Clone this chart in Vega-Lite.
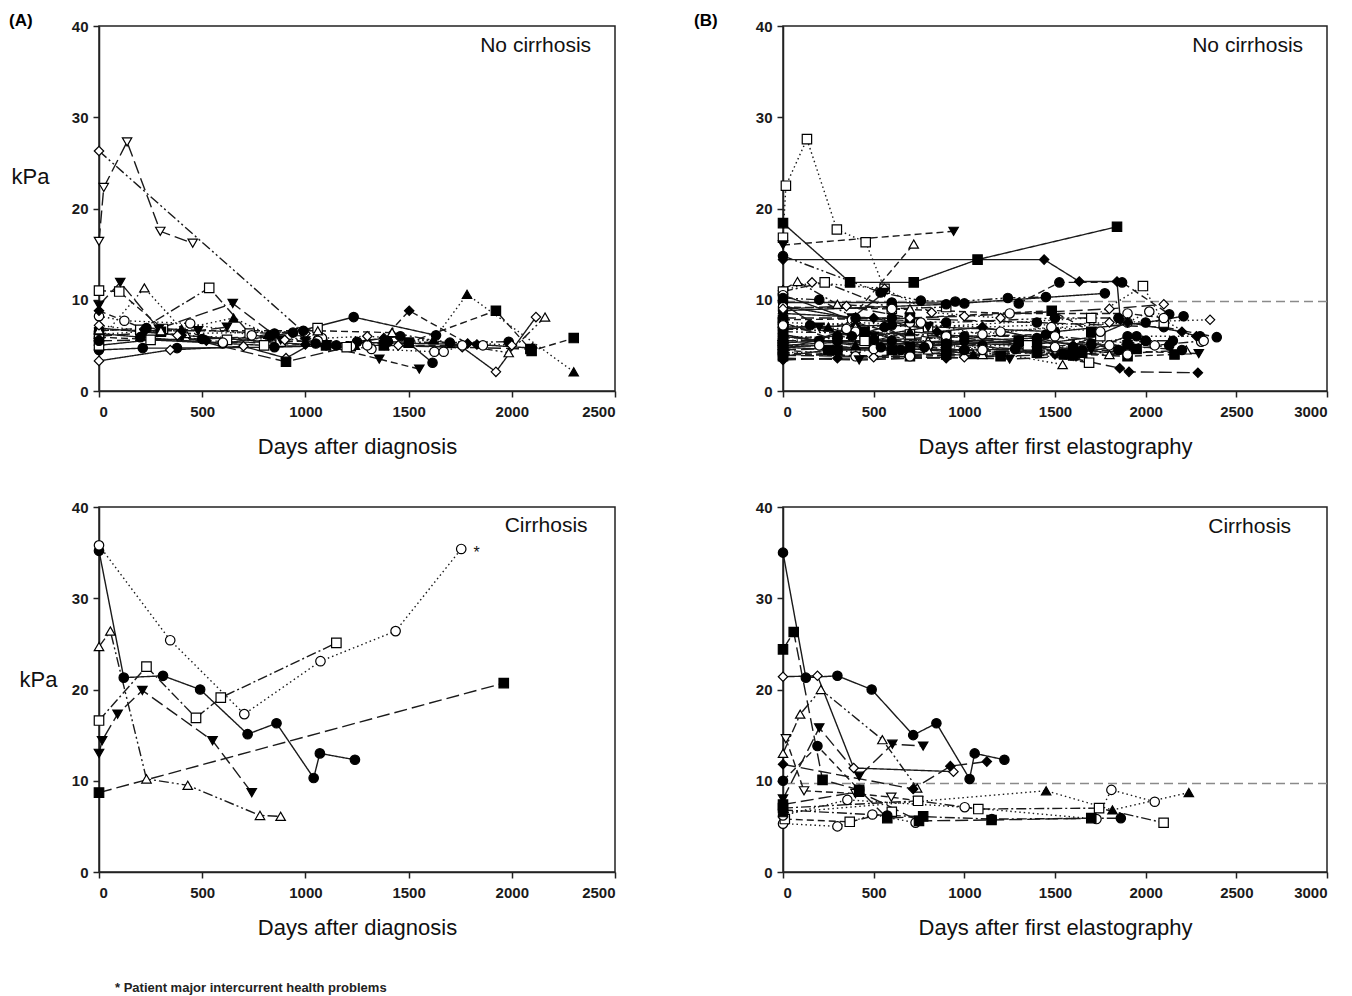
{
"$schema": "https://vega.github.io/schema/vega-lite/v6.json",
"background": "white",
"autosize": {"type": "pad"},
"padding": {"left": 8, "top": 11, "right": 5, "bottom": 5},
"config": {
  "font": "Liberation Sans",
  "view": {"stroke": "#222", "strokeWidth": 1.5},
  "axis": {"labelFont": "Liberation Sans", "labelFontSize": 15, "labelFontWeight": "bold", "labelColor": "#1a1a1a", "titleFont": "Liberation Sans", "titleFontSize": 22, "titleFontWeight": "normal", "titleColor": "#111", "domainColor": "#222", "domainWidth": 1.5, "tickColor": "#222", "tickWidth": 1.5, "tickSize": 6, "grid": false, "labelPadding": 5, "format": "d"},
  "axisX": {"labelPadding": 7, "titlePadding": 17},
  "title": {"font": "Liberation Sans", "fontSize": 17, "fontWeight": "bold", "anchor": "start", "frame": "group", "color": "#000"}
},
"datasets": {
"A1": [
{"s":"a01","d":0,"k":26.3},{"s":"a01","d":1000,"k":6.3},
{"s":"a02","d":0,"k":16.4},{"s":"a02","d":23,"k":22.3},{"s":"a02","d":136,"k":27.3},{"s":"a02","d":297,"k":17.5},{"s":"a02","d":454,"k":16.2},
{"s":"a03","d":0,"k":11.0},{"s":"a03","d":98,"k":10.9},{"s":"a03","d":310,"k":6.8},{"s":"a03","d":620,"k":5.6},{"s":"a03","d":1059,"k":6.9},
{"s":"a04","d":0,"k":9.4},{"s":"a04","d":103,"k":11.9},{"s":"a04","d":290,"k":6.8},{"s":"a04","d":480,"k":6.6},{"s":"a04","d":620,"k":7.0},
{"s":"a05","d":0,"k":5.5},{"s":"a05","d":220,"k":11.3},{"s":"a05","d":420,"k":6.3},{"s":"a05","d":960,"k":6.5},
{"s":"a06","d":200,"k":6.7},{"s":"a06","d":534,"k":11.3},{"s":"a06","d":730,"k":6.3},{"s":"a06","d":880,"k":5.4},
{"s":"a07","d":220,"k":6.3},{"s":"a07","d":648,"k":9.6},{"s":"a07","d":880,"k":5.6},
{"s":"a08","d":0,"k":6.2},{"s":"a08","d":400,"k":6.8},{"s":"a08","d":652,"k":8.0},{"s":"a08","d":820,"k":6.2},
{"s":"a09","d":0,"k":8.2},{"s":"a09","d":123,"k":7.7},{"s":"a09","d":442,"k":7.4},{"s":"a09","d":740,"k":6.1},{"s":"a09","d":1060,"k":5.6},
{"s":"a10","d":0,"k":4.5},{"s":"a10","d":212,"k":4.7},{"s":"a10","d":378,"k":4.7},{"s":"a10","d":850,"k":4.8},{"s":"a10","d":1150,"k":5.0},
{"s":"a11","d":0,"k":3.3},{"s":"a11","d":345,"k":4.5},{"s":"a11","d":700,"k":4.9},{"s":"a11","d":906,"k":3.6},{"s":"a11","d":1080,"k":5.8},
{"s":"a12","d":0,"k":6.0},{"s":"a12","d":300,"k":6.5},{"s":"a12","d":906,"k":3.2},{"s":"a12","d":1220,"k":4.9},
{"s":"a13","d":0,"k":6.3},{"s":"a13","d":200,"k":5.9},{"s":"a13","d":600,"k":5.2},{"s":"a13","d":940,"k":6.4},{"s":"a13","d":1234,"k":8.1},{"s":"a13","d":1633,"k":6.1},
{"s":"a14","d":0,"k":8.8},{"s":"a14","d":220,"k":6.8},{"s":"a14","d":520,"k":5.5},{"s":"a14","d":1100,"k":5.0},{"s":"a14","d":1380,"k":5.8},{"s":"a14","d":1503,"k":8.8},{"s":"a14","d":1786,"k":5.2},
{"s":"a15","d":1240,"k":5.0},{"s":"a15","d":1620,"k":5.6},{"s":"a15","d":1783,"k":10.6},{"s":"a15","d":2300,"k":2.1},
{"s":"a16","d":1500,"k":5.3},{"s":"a16","d":1923,"k":8.8},{"s":"a16","d":2096,"k":4.4},{"s":"a16","d":2300,"k":5.8},
{"s":"a17","d":1450,"k":5.0},{"s":"a17","d":1760,"k":4.8},{"s":"a17","d":1923,"k":2.1},{"s":"a17","d":2117,"k":8.1},
{"s":"a18","d":1420,"k":6.4},{"s":"a18","d":1700,"k":5.2},{"s":"a18","d":1985,"k":4.2},{"s":"a18","d":2161,"k":8.1},
{"s":"a19","d":1000,"k":5.5},{"s":"a19","d":1358,"k":3.5},{"s":"a19","d":1552,"k":2.4},
{"s":"a20","d":1250,"k":5.4},{"s":"a20","d":1460,"k":6.0},{"s":"a20","d":1616,"k":3.1},
{"s":"a21","d":1080,"k":5.8},{"s":"a21","d":1221,"k":4.9},{"s":"a21","d":1320,"k":4.6},{"s":"a21","d":1625,"k":4.3},{"s":"a21","d":1670,"k":4.3},{"s":"a21","d":1760,"k":5.0},
{"s":"a22","d":1400,"k":5.4},{"s":"a22","d":1700,"k":5.3},{"s":"a22","d":1985,"k":5.4},
{"s":"a23","d":0,"k":6.9},{"s":"a23","d":400,"k":6.1},{"s":"a23","d":1000,"k":5.1},{"s":"a23","d":1300,"k":5.3},{"s":"a23","d":1831,"k":5.1},{"s":"a23","d":2100,"k":4.7},
{"s":"a24","d":1100,"k":5.0},{"s":"a24","d":1380,"k":5.0},{"s":"a24","d":2090,"k":4.6},
{"s":"a25","d":0,"k":5.9},{"s":"a25","d":600,"k":5.3},{"s":"a25","d":1060,"k":5.5},{"s":"a25","d":1300,"k":5.0},{"s":"a25","d":1860,"k":5.0},
{"s":"a26","d":0,"k":6.6},{"s":"a26","d":230,"k":6.9},{"s":"a26","d":850,"k":6.3},{"s":"a26","d":990,"k":6.6},
{"s":"a27","d":0,"k":6.7},{"s":"a27","d":300,"k":6.6},{"s":"a27","d":1060,"k":6.6},{"s":"a27","d":1420,"k":6.4},
{"s":"a28","d":0,"k":5.0},{"s":"a28","d":250,"k":5.6},{"s":"a28","d":800,"k":5.0},{"s":"a28","d":1200,"k":4.8},
{"s":"a29","d":0,"k":7.2},{"s":"a29","d":380,"k":6.1},{"s":"a29","d":900,"k":5.6},{"s":"a29","d":1300,"k":6.0},{"s":"a29","d":2000,"k":5.0},
{"s":"a30","d":0,"k":5.5},{"s":"a30","d":500,"k":5.7},{"s":"a30","d":830,"k":6.0},{"s":"a30","d":1050,"k":5.2}
],
"B1": [
{"s":"b01","d":0,"k":16.8},{"s":"b01","d":16,"k":22.5},{"s":"b01","d":132,"k":27.6},{"s":"b01","d":297,"k":17.7},{"s":"b01","d":456,"k":16.3},{"s":"b01","d":560,"k":11.2},
{"s":"b02","d":0,"k":16.0},{"s":"b02","d":941,"k":17.5},
{"s":"b03","d":0,"k":18.4},{"s":"b03","d":370,"k":11.9},{"s":"b03","d":721,"k":11.9},{"s":"b03","d":1073,"k":14.4},{"s":"b03","d":1842,"k":18.0},
{"s":"b04","d":0,"k":14.4},{"s":"b04","d":1440,"k":14.4},{"s":"b04","d":1634,"k":12.0},{"s":"b04","d":1842,"k":12.0},{"s":"b04","d":1860,"k":7.8},
{"s":"b05","d":300,"k":6.2},{"s":"b05","d":721,"k":16.1},
{"s":"b06","d":1300,"k":9.6},{"s":"b06","d":1524,"k":11.9},{"s":"b06","d":1870,"k":11.9},{"s":"b06","d":2130,"k":8.4},
{"s":"b07","d":0,"k":14.8},{"s":"b07","d":538,"k":10.8},{"s":"b07","d":760,"k":9.9},{"s":"b07","d":950,"k":9.8},{"s":"b07","d":1240,"k":10.2},{"s":"b07","d":1450,"k":10.3},
{"s":"b08","d":0,"k":11.0},{"s":"b08","d":160,"k":11.9},{"s":"b08","d":560,"k":11.2},{"s":"b08","d":820,"k":8.6},{"s":"b08","d":1200,"k":8.0},
{"s":"b09","d":0,"k":11.1},{"s":"b09","d":80,"k":12.0},{"s":"b09","d":300,"k":9.5},{"s":"b09","d":700,"k":9.0},
{"s":"b10","d":0,"k":10.9},{"s":"b10","d":230,"k":11.9},{"s":"b10","d":600,"k":9.0},{"s":"b10","d":900,"k":9.2},
{"s":"b11","d":0,"k":9.7},{"s":"b11","d":600,"k":9.7},{"s":"b11","d":1000,"k":9.6},
{"s":"b12","d":0,"k":9.3},{"s":"b12","d":380,"k":8.0},{"s":"b12","d":560,"k":10.8},
{"s":"b13","d":0,"k":10.5},{"s":"b13","d":380,"k":7.8},{"s":"b13","d":700,"k":7.5},
{"s":"b14","d":0,"k":8.0},{"s":"b14","d":600,"k":8.0},{"s":"b14","d":1400,"k":7.5},{"s":"b14","d":2100,"k":7.0},{"s":"b14","d":2392,"k":5.9},
{"s":"b15","d":0,"k":7.0},{"s":"b15","d":400,"k":7.5},{"s":"b15","d":1100,"k":7.0},{"s":"b15","d":1800,"k":7.5},{"s":"b15","d":2355,"k":7.8},
{"s":"b16","d":0,"k":5.5},{"s":"b16","d":500,"k":6.0},{"s":"b16","d":1200,"k":6.5},{"s":"b16","d":1900,"k":7.5},{"s":"b16","d":2020,"k":8.7},{"s":"b16","d":2306,"k":5.4},
{"s":"b17","d":0,"k":4.5},{"s":"b17","d":400,"k":3.8},{"s":"b17","d":1000,"k":4.2},{"s":"b17","d":1700,"k":4.5},{"s":"b17","d":2293,"k":4.1},
{"s":"b18","d":0,"k":3.4},{"s":"b18","d":300,"k":3.6},{"s":"b18","d":900,"k":3.6},{"s":"b18","d":1500,"k":4.0},{"s":"b18","d":1857,"k":2.5},{"s":"b18","d":1908,"k":2.1},{"s":"b18","d":2288,"k":2.0},
{"s":"b19","d":0,"k":7.5},{"s":"b19","d":800,"k":7.0},{"s":"b19","d":1700,"k":8.0},{"s":"b19","d":1985,"k":11.5},{"s":"b19","d":2100,"k":7.5},
{"s":"b20","d":0,"k":7.0},{"s":"b20","d":600,"k":7.2},{"s":"b20","d":1500,"k":6.5},{"s":"b20","d":2000,"k":7.5},{"s":"b20","d":2209,"k":8.2},
{"s":"b21","d":0,"k":5.0},{"s":"b21","d":900,"k":4.5},{"s":"b21","d":1800,"k":4.0},{"s":"b21","d":2224,"k":4.5},
{"s":"b22","d":0,"k":4.0},{"s":"b22","d":700,"k":3.8},{"s":"b22","d":1400,"k":4.2},{"s":"b22","d":1900,"k":3.8},{"s":"b22","d":2159,"k":4.0},
{"s":"b23","d":0,"k":6.0},{"s":"b23","d":800,"k":5.5},{"s":"b23","d":1542,"k":2.9},
{"s":"b24","d":0,"k":6.5},{"s":"b24","d":700,"k":6.2},{"s":"b24","d":1688,"k":3.1},
{"s":"b25","d":0,"k":8.8},{"s":"b25","d":900,"k":9.5},{"s":"b25","d":1775,"k":10.7},
{"s":"b26","d":0,"k":7.8},{"s":"b26","d":700,"k":8.0},{"s":"b26","d":1482,"k":8.8},{"s":"b26","d":1700,"k":6.5},
{"s":"b27","d":0,"k":5.3},{"s":"b27","d":300,"k":5.5},{"s":"b27","d":800,"k":5.0},{"s":"b27","d":1300,"k":5.5},{"s":"b27","d":1800,"k":5.0},
{"s":"b28","d":0,"k":6.2},{"s":"b28","d":200,"k":5.5},{"s":"b28","d":500,"k":5.0},{"s":"b28","d":900,"k":5.5},{"s":"b28","d":1300,"k":5.2},
{"s":"b29","d":0,"k":9.5},{"s":"b29","d":200,"k":7.0},{"s":"b29","d":500,"k":6.0},{"s":"b29","d":800,"k":7.0},
{"s":"b30","d":0,"k":3.9},{"s":"b30","d":400,"k":3.8},{"s":"b30","d":700,"k":3.8},{"s":"b30","d":1000,"k":4.5},
{"s":"b31","d":0,"k":4.8},{"s":"b31","d":300,"k":4.5},{"s":"b31","d":600,"k":4.5},{"s":"b31","d":900,"k":4.0},{"s":"b31","d":1200,"k":3.8},
{"s":"b32","d":0,"k":4.2},{"s":"b32","d":500,"k":3.7},{"s":"b32","d":1000,"k":3.7},{"s":"b32","d":1500,"k":4.5},
{"s":"b33","d":0,"k":6.8},{"s":"b33","d":250,"k":7.0},{"s":"b33","d":400,"k":7.5},{"s":"b33","d":1050,"k":4.0},{"s":"b33","d":1600,"k":4.5},
{"s":"b34","d":0,"k":5.8},{"s":"b34","d":300,"k":6.0},{"s":"b34","d":600,"k":5.5},{"s":"b34","d":1000,"k":6.0},{"s":"b34","d":1450,"k":6.2},{"s":"b34","d":1850,"k":4.5},{"s":"b34","d":2130,"k":5.0},
{"s":"b35","d":0,"k":9.2},{"s":"b35","d":600,"k":9.0},{"s":"b35","d":1250,"k":8.5},{"s":"b35","d":1900,"k":8.5},{"s":"b35","d":2100,"k":8.0},
{"s":"b36","d":0,"k":4.2},{"s":"b36","d":650,"k":4.5},{"s":"b36","d":1100,"k":5.0},{"s":"b36","d":1600,"k":4.8},{"s":"b36","d":1950,"k":6.0},{"s":"b36","d":2300,"k":6.0},
{"s":"b37","d":0,"k":5.5},{"s":"b37","d":500,"k":5.5},{"s":"b37","d":900,"k":6.0},{"s":"b37","d":1400,"k":5.0},{"s":"b37","d":1650,"k":4.2},
{"s":"b38","d":0,"k":5.0},{"s":"b38","d":450,"k":5.5},{"s":"b38","d":900,"k":5.3},{"s":"b38","d":1350,"k":5.0},{"s":"b38","d":1750,"k":6.0},
{"s":"b39","d":0,"k":4.5},{"s":"b39","d":400,"k":7.0},{"s":"b39","d":800,"k":4.5},{"s":"b39","d":1100,"k":4.0},
{"s":"b40","d":0,"k":8.5},{"s":"b40","d":500,"k":8.0},{"s":"b40","d":850,"k":6.5},{"s":"b40","d":1100,"k":7.0},{"s":"b40","d":1600,"k":5.0},{"s":"b40","d":1900,"k":7.5},{"s":"b40","d":2200,"k":6.5},{"s":"b40","d":2280,"k":6.0},
{"s":"b41","d":0,"k":7.5},{"s":"b41","d":300,"k":5.5},{"s":"b41","d":1000,"k":4.5},{"s":"b41","d":1650,"k":4.5},{"s":"b41","d":2000,"k":5.5},{"s":"b41","d":2150,"k":5.5},
{"s":"b42","d":0,"k":6.8},{"s":"b42","d":400,"k":6.5},{"s":"b42","d":900,"k":6.0},{"s":"b42","d":1500,"k":6.0},{"s":"b42","d":2050,"k":5.0},{"s":"b42","d":2320,"k":5.5},
{"s":"b43","d":0,"k":3.8},{"s":"b43","d":250,"k":4.5},{"s":"b43","d":700,"k":4.8},{"s":"b43","d":1300,"k":5.5},{"s":"b43","d":1550,"k":4.0},{"s":"b43","d":1900,"k":5.0},
{"s":"b44","d":0,"k":9.0},{"s":"b44","d":350,"k":9.3},{"s":"b44","d":700,"k":8.0},{"s":"b44","d":1000,"k":8.2},{"s":"b44","d":1800,"k":9.0},{"s":"b44","d":2100,"k":9.5},
{"s":"b45","d":0,"k":10.2},{"s":"b45","d":200,"k":10.0},{"s":"b45","d":400,"k":8.0},{"s":"b45","d":900,"k":7.5},{"s":"b45","d":1500,"k":8.0},{"s":"b45","d":1850,"k":8.0},
{"s":"b46","d":0,"k":4.8},{"s":"b46","d":200,"k":5.0},{"s":"b46","d":500,"k":4.6},{"s":"b46","d":1100,"k":4.5},{"s":"b46","d":1500,"k":4.8},{"s":"b46","d":1900,"k":4.0},
{"s":"b47","d":0,"k":3.6},{"s":"b47","d":420,"k":3.4},{"s":"b47","d":900,"k":3.7},{"s":"b47","d":1250,"k":3.5},{"s":"b47","d":1600,"k":3.8},
{"s":"b48","d":0,"k":6.6},{"s":"b48","d":150,"k":7.2},{"s":"b48","d":380,"k":6.0},{"s":"b48","d":560,"k":7.0},{"s":"b48","d":780,"k":4.8},{"s":"b48","d":1000,"k":5.5},{"s":"b48","d":1400,"k":5.8},{"s":"b48","d":1620,"k":4.0},{"s":"b48","d":1900,"k":6.0},{"s":"b48","d":2000,"k":5.5},
{"s":"b49","d":0,"k":7.2},{"s":"b49","d":350,"k":6.8},{"s":"b49","d":760,"k":7.5},{"s":"b49","d":1100,"k":6.2},{"s":"b49","d":1480,"k":7.0},{"s":"b49","d":1750,"k":6.5},
{"s":"b50","d":0,"k":5.2},{"s":"b50","d":450,"k":6.5},{"s":"b50","d":900,"k":5.0},{"s":"b50","d":1600,"k":3.9},{"s":"b50","d":1950,"k":4.6},
{"s":"b51","d":0,"k":4.5},{"s":"b51","d":540,"k":4.8},{"s":"b51","d":900,"k":5.2},{"s":"b51","d":1280,"k":4.6},{"s":"b51","d":1700,"k":5.2},{"s":"b51","d":2200,"k":4.5},
{"s":"b52","d":0,"k":6.0},{"s":"b52","d":400,"k":5.0},{"s":"b52","d":700,"k":6.5},{"s":"b52","d":1400,"k":5.3}
],
"A2": [
{"s":"c01","d":0,"k":35.2},{"s":"c01","d":120,"k":21.3},{"s":"c01","d":310,"k":21.5},{"s":"c01","d":490,"k":20.0},{"s":"c01","d":720,"k":15.1},{"s":"c01","d":860,"k":16.3},{"s":"c01","d":1040,"k":10.3},{"s":"c01","d":1070,"k":13.0},{"s":"c01","d":1240,"k":12.3},
{"s":"c02","d":0,"k":35.8},{"s":"c02","d":345,"k":25.4},{"s":"c02","d":704,"k":17.3},{"s":"c02","d":1073,"k":23.1},{"s":"c02","d":1437,"k":26.4},{"s":"c02","d":1755,"k":35.4},
{"s":"c03","d":0,"k":16.6},{"s":"c03","d":230,"k":22.5},{"s":"c03","d":470,"k":16.9},{"s":"c03","d":590,"k":19.1},{"s":"c03","d":1150,"k":25.1},
{"s":"c04","d":0,"k":13.0},{"s":"c04","d":15,"k":14.4},{"s":"c04","d":90,"k":17.3},{"s":"c04","d":210,"k":19.9},{"s":"c04","d":550,"k":14.4},{"s":"c04","d":740,"k":8.7},
{"s":"c05","d":0,"k":24.7},{"s":"c05","d":55,"k":26.4},{"s":"c05","d":230,"k":10.2},{"s":"c05","d":430,"k":9.5},{"s":"c05","d":780,"k":6.2},{"s":"c05","d":880,"k":6.1},
{"s":"c06","d":0,"k":8.7},{"s":"c06","d":1961,"k":20.7}
],
"B2": [
{"s":"d01","d":0,"k":35.0},{"s":"d01","d":126,"k":21.3},{"s":"d01","d":300,"k":21.5},{"s":"d01","d":489,"k":20.0},{"s":"d01","d":718,"k":15.0},{"s":"d01","d":846,"k":16.3},{"s":"d01","d":1029,"k":10.2},{"s":"d01","d":1057,"k":13.0},{"s":"d01","d":1221,"k":12.3},
{"s":"d02","d":0,"k":24.4},{"s":"d02","d":59,"k":26.3},{"s":"d02","d":218,"k":10.1},{"s":"d02","d":420,"k":9.0},{"s":"d02","d":575,"k":5.9},{"s":"d02","d":773,"k":6.1},
{"s":"d03","d":0,"k":21.4},{"s":"d03","d":190,"k":21.5},{"s":"d03","d":390,"k":11.4},{"s":"d03","d":940,"k":11.0},
{"s":"d04","d":0,"k":13.0},{"s":"d04","d":95,"k":17.3},{"s":"d04","d":209,"k":20.0},{"s":"d04","d":548,"k":14.5},{"s":"d04","d":740,"k":9.2},
{"s":"d05","d":16,"k":14.6},{"s":"d05","d":116,"k":8.9},{"s":"d05","d":400,"k":8.6},{"s":"d05","d":597,"k":8.2},{"s":"d05","d":745,"k":7.8},
{"s":"d06","d":0,"k":8.0},{"s":"d06","d":200,"k":15.8},{"s":"d06","d":420,"k":10.5},{"s":"d06","d":603,"k":14.0},{"s":"d06","d":773,"k":13.8},
{"s":"d07","d":0,"k":10.0},{"s":"d07","d":190,"k":13.8},{"s":"d07","d":420,"k":9.0},
{"s":"d08","d":0,"k":11.8},{"s":"d08","d":718,"k":9.1},{"s":"d08","d":923,"k":11.6},{"s":"d08","d":1124,"k":12.1},
{"s":"d09","d":0,"k":5.3},{"s":"d09","d":300,"k":5.0},{"s":"d09","d":493,"k":6.3},{"s":"d09","d":731,"k":5.4},
{"s":"d10","d":10,"k":5.8},{"s":"d10","d":368,"k":5.5},{"s":"d10","d":600,"k":6.6},
{"s":"d11","d":0,"k":6.2},{"s":"d11","d":355,"k":7.9},{"s":"d11","d":1002,"k":7.1},{"s":"d11","d":1729,"k":5.8},{"s":"d11","d":1811,"k":9.0},{"s":"d11","d":2050,"k":7.7},
{"s":"d12","d":0,"k":7.0},{"s":"d12","d":745,"k":7.8},{"s":"d12","d":1077,"k":6.9},{"s":"d12","d":1743,"k":7.0},{"s":"d12","d":2099,"k":5.4},
{"s":"d13","d":0,"k":6.5},{"s":"d13","d":1451,"k":8.9},{"s":"d13","d":1817,"k":6.8},{"s":"d13","d":2238,"k":8.7},
{"s":"d14","d":0,"k":6.8},{"s":"d14","d":575,"k":6.2},{"s":"d14","d":1152,"k":5.8},{"s":"d14","d":1863,"k":5.9},
{"s":"d15","d":0,"k":7.4},{"s":"d15","d":420,"k":8.8},{"s":"d15","d":750,"k":5.6},{"s":"d15","d":1150,"k":5.7},{"s":"d15","d":1700,"k":5.9}
]
},
"columns": 2,
"spacing": {"row": 116, "column": 168},
"bounds": "flush",
"resolve": {"scale": {"x": "independent", "y": "independent", "shape": "independent", "fill": "independent", "strokeDash": "independent"}},
"concat": [
{
  "width": 516, "height": 365,
  "title": {"text": "(A)", "dx": -90, "offset": -11},
  "layer": [
    {
      "data": {"name": "A1"},
      "mark": {"type": "line", "color": "#1a1a1a", "strokeWidth": 1.4},
      "encoding": {
        "x": {"field": "d", "type": "quantitative", "scale": {"domain": [0, 2500], "nice": false, "zero": false}, "axis": {"values": [0, 500, 1000, 1500, 2000, 2500], "title": "Days after diagnosis"}},
        "y": {"field": "k", "type": "quantitative", "scale": {"domain": [0, 40], "nice": false}, "axis": {"values": [0, 10, 20, 30, 40], "title": "kPa", "titleAngle": 0, "titleX": -88, "titleY": 150, "titleAlign": "left", "titleBaseline": "middle"}},
        "detail": {"field": "s"},
        "strokeDash": {"field": "s", "type": "nominal", "legend": null, "scale": {
          "domain": ["a01","a02","a03","a04","a05","a06","a07","a08","a09","a10","a11","a12","a13","a14","a15","a16","a17","a18","a19","a20","a21","a22","a23","a24","a25","a26","a27","a28","a29","a30"],
          "range": [[10,3,2,3,2,3],[13,5],[7,4],[13,5],[1.5,3],[10,3,2,3],[13,5],[1.5,3],[1.5,3],[1,0],[1,0],[13,5],[1,0],[7,4],[1.5,3],[7,4],[1,0],[10,3,2,3,2,3],[7,4],[1,0],[1.5,3],[10,3,2,3],[1,0],[13,5],[7,4],[10,3,2,3,2,3],[7,4],[1,0],[1.5,3],[13,5]]}}
      }
    },
    {
      "data": {"name": "A1"},
      "mark": {"type": "point", "filled": true, "size": 88, "stroke": "#000", "strokeWidth": 1.2, "opacity": 1},
      "encoding": {
        "x": {"field": "d", "type": "quantitative"},
        "y": {"field": "k", "type": "quantitative"},
        "shape": {"field": "s", "type": "nominal", "legend": null, "scale": {
          "domain": ["a01","a02","a03","a04","a05","a06","a07","a08","a09","a10","a11","a12","a13","a14","a15","a16","a17","a18","a19","a20","a21","a22","a23","a24","a25","a26","a27","a28","a29","a30"],
          "range": ["diamond","triangle-down","square","triangle-down","triangle-up","square","triangle-down","triangle-up","circle","circle","diamond","square","circle","diamond","triangle-up","square","diamond","triangle-up","triangle-down","circle","circle","circle","diamond","square","circle","circle","triangle-up","square","diamond","circle"]}},
        "fill": {"field": "s", "type": "nominal", "legend": null, "scale": {
          "domain": ["a01","a02","a03","a04","a05","a06","a07","a08","a09","a10","a11","a12","a13","a14","a15","a16","a17","a18","a19","a20","a21","a22","a23","a24","a25","a26","a27","a28","a29","a30"],
          "range": ["#fff","#fff","#fff","#000","#fff","#fff","#000","#000","#fff","#000","#fff","#000","#000","#000","#000","#000","#fff","#fff","#000","#000","#fff","#000","#000","#000","#fff","#000","#fff","#fff","#fff","#000"]}}
      }
    },
    {
      "data": {"values": [{"t": "No cirrhosis"}]},
      "mark": {"type": "text", "align": "right", "baseline": "middle", "fontSize": 21, "font": "Liberation Sans", "color": "#111"},
      "encoding": {"x": {"datum": 2384, "type": "quantitative"}, "y": {"datum": 37.8, "type": "quantitative"}, "text": {"field": "t"}}
    }
  ]
},
{
  "width": 544, "height": 365,
  "title": {"text": "(B)", "dx": -89, "offset": -11},
  "layer": [
    {
      "data": {"values": [{}]},
      "mark": {"type": "rule", "color": "#8a8a8a", "strokeDash": [9, 5], "strokeWidth": 1.5},
      "encoding": {"y": {"datum": 9.8, "type": "quantitative"}}
    },
    {
      "data": {"name": "B1"},
      "mark": {"type": "line", "color": "#1a1a1a", "strokeWidth": 1.4},
      "encoding": {
        "x": {"field": "d", "type": "quantitative", "scale": {"domain": [0, 3000], "nice": false, "zero": false}, "axis": {"values": [0, 500, 1000, 1500, 2000, 2500, 3000], "title": "Days after first elastography"}},
        "y": {"field": "k", "type": "quantitative", "scale": {"domain": [0, 40], "nice": false}, "axis": {"values": [0, 10, 20, 30, 40], "title": null}},
        "detail": {"field": "s"},
        "strokeDash": {"field": "s", "type": "nominal", "legend": null, "scale": {
          "domain": ["b01","b02","b03","b04","b05","b06","b07","b08","b09","b10","b11","b12","b13","b14","b15","b16","b17","b18","b19","b20","b21","b22","b23","b24","b25","b26","b27","b28","b29","b30","b31","b32","b33","b34","b35","b36","b37","b38","b39","b40","b41","b42","b43","b44","b45","b46","b47","b48","b49","b50","b51","b52"],
          "range": [[1.5,3],[7,4],[1,0],[1,0],[7,4],[7,4],[10,3,2,3,2,3],[1.5,3],[10,3,2,3],[10,3,2,3],[1,0],[1,0],[1,0],[13,5],[1.5,3],[1.5,3],[7,4],[13,5],[1.5,3],[1,0],[10,3,2,3],[7,4],[1.5,3],[10,3,2,3,2,3],[1,0],[7,4],[1,0],[1,0],[1,0],[13,5],[1,0],[7,4],[10,3,2,3],[7,4],[7,4],[1.5,3],[13,5],[1,0],[1,0],[1,0],[13,5],[10,3,2,3],[1,0],[13,5],[10,3,2,3,2,3],[1,0],[13,5],[1,0],[1.5,3],[10,3,2,3],[13,5],[1,0]]}}
      }
    },
    {
      "data": {"name": "B1"},
      "mark": {"type": "point", "filled": true, "size": 88, "stroke": "#000", "strokeWidth": 1.2, "opacity": 1},
      "encoding": {
        "x": {"field": "d", "type": "quantitative"},
        "y": {"field": "k", "type": "quantitative"},
        "shape": {"field": "s", "type": "nominal", "legend": null, "scale": {
          "domain": ["b01","b02","b03","b04","b05","b06","b07","b08","b09","b10","b11","b12","b13","b14","b15","b16","b17","b18","b19","b20","b21","b22","b23","b24","b25","b26","b27","b28","b29","b30","b31","b32","b33","b34","b35","b36","b37","b38","b39","b40","b41","b42","b43","b44","b45","b46","b47","b48","b49","b50","b51","b52"],
          "range": ["square","triangle-down","square","diamond","triangle-up","circle","circle","diamond","triangle-up","square","circle","triangle-down","circle","circle","diamond","circle","triangle-down","diamond","square","circle","triangle-up","square","triangle-up","square","circle","square","circle","circle","triangle-down","circle","square","diamond","triangle-up","circle","circle","circle","square","square","triangle-up","diamond","circle","circle","square","diamond","circle","circle","triangle-down","circle","circle","square","circle","triangle-up"]}},
        "fill": {"field": "s", "type": "nominal", "legend": null, "scale": {
          "domain": ["b01","b02","b03","b04","b05","b06","b07","b08","b09","b10","b11","b12","b13","b14","b15","b16","b17","b18","b19","b20","b21","b22","b23","b24","b25","b26","b27","b28","b29","b30","b31","b32","b33","b34","b35","b36","b37","b38","b39","b40","b41","b42","b43","b44","b45","b46","b47","b48","b49","b50","b51","b52"],
          "range": ["#fff","#000","#000","#000","#fff","#000","#000","#fff","#fff","#fff","#000","#000","#fff","#000","#fff","#fff","#000","#000","#fff","#000","#fff","#000","#fff","#fff","#000","#000","#fff","#000","#000","#fff","#000","#fff","#000","#000","#fff","#000","#000","#fff","#fff","#000","#000","#fff","#000","#fff","#000","#fff","#000","#000","#fff","#000","#000","#000"]}}
      }
    },
    {
      "data": {"values": [{"t": "No cirrhosis"}]},
      "mark": {"type": "text", "align": "right", "baseline": "middle", "fontSize": 21, "font": "Liberation Sans", "color": "#111"},
      "encoding": {"x": {"datum": 2868, "type": "quantitative"}, "y": {"datum": 37.8, "type": "quantitative"}, "text": {"field": "t"}}
    }
  ]
},
{
  "width": 516, "height": 365,
  "title": {"text": "* Patient major intercurrent health problems", "orient": "bottom", "dx": 16, "offset": 44, "fontSize": 13, "fontWeight": "bold", "color": "#222"},
  "layer": [
    {
      "data": {"name": "A2"},
      "mark": {"type": "line", "color": "#1a1a1a", "strokeWidth": 1.4},
      "encoding": {
        "x": {"field": "d", "type": "quantitative", "scale": {"domain": [0, 2500], "nice": false, "zero": false}, "axis": {"values": [0, 500, 1000, 1500, 2000, 2500], "title": "Days after diagnosis"}},
        "y": {"field": "k", "type": "quantitative", "scale": {"domain": [0, 40], "nice": false}, "axis": {"values": [0, 10, 20, 30, 40], "title": "kPa", "titleAngle": 0, "titleX": -80, "titleY": 172, "titleAlign": "left", "titleBaseline": "middle"}},
        "detail": {"field": "s"},
        "strokeDash": {"field": "s", "type": "nominal", "legend": null, "scale": {
          "domain": ["c01","c02","c03","c04","c05","c06"],
          "range": [[1,0],[1.5,3],[10,3,2,3],[13,5],[10,3,2,3,2,3],[13,5]]}}
      }
    },
    {
      "data": {"name": "A2"},
      "mark": {"type": "point", "filled": true, "size": 90, "stroke": "#000", "strokeWidth": 1.2, "opacity": 1},
      "encoding": {
        "x": {"field": "d", "type": "quantitative"},
        "y": {"field": "k", "type": "quantitative"},
        "shape": {"field": "s", "type": "nominal", "legend": null, "scale": {
          "domain": ["c01","c02","c03","c04","c05","c06"],
          "range": ["circle","circle","square","triangle-down","triangle-up","square"]}},
        "fill": {"field": "s", "type": "nominal", "legend": null, "scale": {
          "domain": ["c01","c02","c03","c04","c05","c06"],
          "range": ["#000","#fff","#fff","#000","#fff","#000"]}}
      }
    },
    {
      "data": {"values": [{"t": "Cirrhosis"}]},
      "mark": {"type": "text", "align": "right", "baseline": "middle", "fontSize": 21, "font": "Liberation Sans", "color": "#111"},
      "encoding": {"x": {"datum": 2367, "type": "quantitative"}, "y": {"datum": 37.9, "type": "quantitative"}, "text": {"field": "t"}}
    },
    {
      "data": {"values": [{"t": "*"}]},
      "mark": {"type": "text", "align": "center", "baseline": "middle", "fontSize": 16, "font": "Liberation Sans", "color": "#111"},
      "encoding": {"x": {"datum": 1830, "type": "quantitative"}, "y": {"datum": 35.0, "type": "quantitative"}, "text": {"field": "t"}}
    }
  ]
},
{
  "width": 544, "height": 365,
  "layer": [
    {
      "data": {"values": [{}]},
      "mark": {"type": "rule", "color": "#8a8a8a", "strokeDash": [9, 5], "strokeWidth": 1.5},
      "encoding": {"y": {"datum": 9.7, "type": "quantitative"}}
    },
    {
      "data": {"name": "B2"},
      "mark": {"type": "line", "color": "#1a1a1a", "strokeWidth": 1.4},
      "encoding": {
        "x": {"field": "d", "type": "quantitative", "scale": {"domain": [0, 3000], "nice": false, "zero": false}, "axis": {"values": [0, 500, 1000, 1500, 2000, 2500, 3000], "title": "Days after first elastography"}},
        "y": {"field": "k", "type": "quantitative", "scale": {"domain": [0, 40], "nice": false}, "axis": {"values": [0, 10, 20, 30, 40], "title": null}},
        "detail": {"field": "s"},
        "strokeDash": {"field": "s", "type": "nominal", "legend": null, "scale": {
          "domain": ["d01","d02","d03","d04","d05","d06","d07","d08","d09","d10","d11","d12","d13","d14","d15"],
          "range": [[1,0],[13,5],[1,0],[10,3,2,3,2,3],[7,4],[13,5],[7,4],[13,5],[1.5,3],[7,4],[1.5,3],[10,3,2,3],[1.5,3],[10,3,2,3],[13,5]]}}
      }
    },
    {
      "data": {"name": "B2"},
      "mark": {"type": "point", "filled": true, "size": 88, "stroke": "#000", "strokeWidth": 1.2, "opacity": 1},
      "encoding": {
        "x": {"field": "d", "type": "quantitative"},
        "y": {"field": "k", "type": "quantitative"},
        "shape": {"field": "s", "type": "nominal", "legend": null, "scale": {
          "domain": ["d01","d02","d03","d04","d05","d06","d07","d08","d09","d10","d11","d12","d13","d14","d15"],
          "range": ["circle","square","diamond","triangle-up","triangle-down","triangle-down","circle","diamond","circle","square","circle","square","triangle-up","circle","square"]}},
        "fill": {"field": "s", "type": "nominal", "legend": null, "scale": {
          "domain": ["d01","d02","d03","d04","d05","d06","d07","d08","d09","d10","d11","d12","d13","d14","d15"],
          "range": ["#000","#000","#fff","#fff","#fff","#000","#000","#000","#fff","#fff","#fff","#fff","#000","#000","#000"]}}
      }
    },
    {
      "data": {"values": [{"t": "Cirrhosis"}]},
      "mark": {"type": "text", "align": "right", "baseline": "middle", "fontSize": 21, "font": "Liberation Sans", "color": "#111"},
      "encoding": {"x": {"datum": 2802, "type": "quantitative"}, "y": {"datum": 37.8, "type": "quantitative"}, "text": {"field": "t"}}
    }
  ]
}
]
}
